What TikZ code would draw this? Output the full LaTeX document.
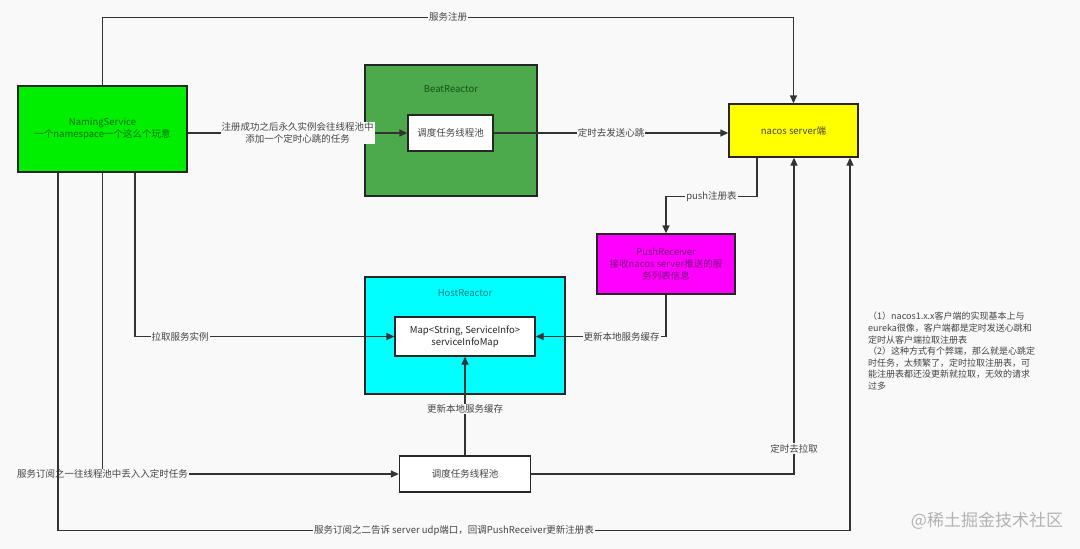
\documentclass[tikz,border=0pt]{standalone}
\usepackage{fontspec}
\setmainfont{Noto Sans CJK SC}
\usetikzlibrary{arrows.meta}
\definecolor{bg}{HTML}{F9F9F9}
\definecolor{linec}{HTML}{333333}
\definecolor{boxline}{HTML}{262626}
\definecolor{textc}{HTML}{444444}
\definecolor{nsgreen}{HTML}{00EE00}
\definecolor{nstext}{HTML}{0A6E0A}
\definecolor{beatgreen}{HTML}{4CAA4C}
\definecolor{beattext}{HTML}{145214}
\definecolor{nacosy}{HTML}{FFFF00}
\definecolor{pushm}{HTML}{FF00FF}
\definecolor{pushtext}{HTML}{7A107A}
\definecolor{hostc}{HTML}{00FFFF}
\definecolor{hosttext}{HTML}{008080}
\begin{document}
\begin{tikzpicture}[x=1pt,y=-1pt,
  box/.style={draw=boxline, line width=1.3pt, inner sep=0pt, align=center,
    font=\fontsize{9.5}{12}\selectfont},
  lbl/.style={fill=bg, inner sep=1pt, text=textc, align=center,
    font=\fontsize{9.5}{11.7}\selectfont},
  arr/.style={draw=linec, line width=1.3pt, -{Triangle[length=8pt,width=7pt]}},
  con/.style={draw=linec, line width=1.3pt}]
\fill[bg] (0,0) rectangle (1080,549);
\useasboundingbox (0,0) rectangle (1080,549);

% containers
\node[box, fill=beatgreen, minimum width=172pt, minimum height=131pt] (beat) at (451,130.5) {};
\node[text=beattext, font=\fontsize{9.5}{12}\selectfont] (beatT) at (451,89) {BeatReactor};
\node[box, fill=hostc, minimum width=200pt, minimum height=117pt] (host) at (465,335.5) {};
\node[text=hosttext, font=\fontsize{9.5}{12}\selectfont] (hostT) at (465,293) {HostReactor};

% nodes
\node[box, fill=nsgreen, text=nstext, minimum width=169pt, minimum height=86pt] (ns) at (102.5,129)
  {NamingService\\一个namespace一个这么个玩意};
\node[box, fill=white, text=textc, minimum width=85pt, minimum height=36pt] (beatpool) at (450.5,133) {调度任务线程池};
\node[box, fill=nacosy, text=textc, minimum width=129pt, minimum height=53pt] (nacos) at (793.5,130.5) {nacos server端};
\node[box, fill=pushm, text=pushtext, minimum width=138pt, minimum height=60pt] (push) at (666,264)
  {PushReceiver\\接收nacos server推送的服\\务列表信息};
\node[box, fill=white, text=black!85, minimum width=140pt, minimum height=39pt] (map) at (465,336.5)
  {Map<String, ServiceInfo>\\serviceInfoMap};
\node[box, fill=white, text=textc, minimum width=131pt, minimum height=36pt] (pool2) at (465,474) {调度任务线程池};

% connectors
\draw[arr] (ns.north) -- ++(0,-68) -| node[pos=0.25, lbl] {服务注册} (nacos.north);
\draw[arr] (ns.east |- beatpool.west) -- node[lbl] {注册成功之后永久实例会往线程池中\\添加一个定时心跳的任务} (beatpool.west);
\draw[arr] (beatpool.east) -- node[lbl] {定时去发送心跳} (beatpool.east -| nacos.west);
\draw[arr] ([xshift=-36.5pt]nacos.south) -- ++(0,39) -| node[pos=0.25, lbl] {push注册表} (push.north);
\draw[arr] (push.south) |- node[pos=0.67, lbl] {更新本地服务缓存} (map.east);
\draw[arr] ([xshift=32.5pt]ns.south) |- node[pos=0.587, lbl] {拉取服务实例} (map.west);
\draw[arr] (ns.south) |- node[pos=0.5, lbl] {服务订阅之一往线程池中丢入入定时任务} (pool2.west);
\draw[arr] (pool2.north) -- node[pos=0.47, lbl] {更新本地服务缓存} (map.south);
\draw[arr] (pool2.east) -| node[pos=0.54, lbl] {定时去拉取} ([xshift=0.5pt]nacos.south);
\draw[arr] ([xshift=-44.5pt]ns.south) -- ++(0,358) -| node[pos=0.25, lbl] {服务订阅之二告诉 server udp端口，回调PushReceiver更新注册表} ([xshift=56.5pt]nacos.south);

% note
\node[anchor=north west, align=left, text=textc, inner sep=0pt, font=\fontsize{9}{11.6}\selectfont] (note) at (868,312)
  {（1）nacos1.x.x客户端的实现基本上与\\eureka很像，客户端都是定时发送心跳和\\定时从客户端拉取注册表\\（2）这种方式有个弊端，那么就是心跳定\\时任务，太频繁了，定时拉取注册表，可\\能注册表都还没更新就拉取，无效的请求\\过多};

% watermark
\node[text=black!30, font=\fontsize{17}{17}\selectfont] (wm) at (987,521) {@稀土掘金技术社区};
\end{tikzpicture}
\end{document}
